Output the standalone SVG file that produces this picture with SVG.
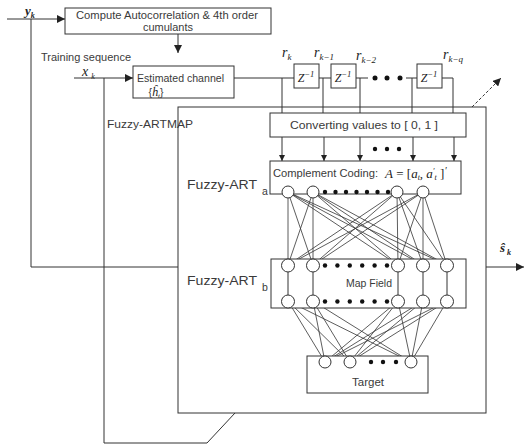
<svg xmlns="http://www.w3.org/2000/svg" width="526" height="446" viewBox="0 0 526 446">
<defs>
<marker id="arr" viewBox="0 0 10 10" refX="10" refY="5" markerWidth="8" markerHeight="8" markerUnits="userSpaceOnUse" orient="auto">
<path d="M0,0 L10,5 L0,10 Z" fill="#222"/>
</marker>
<marker id="arrs" viewBox="0 0 10 10" refX="10" refY="5" markerWidth="6" markerHeight="6" markerUnits="userSpaceOnUse" orient="auto">
<path d="M0,0 L10,5 L0,10 Z" fill="#222"/>
</marker>
</defs>
<style>
.box{fill:#fff;stroke:#333;stroke-width:1}
.ln{fill:none;stroke:#333;stroke-width:1}
.net{fill:none;stroke:#333;stroke-width:0.8}
.cir{fill:#fff;stroke:#333;stroke-width:1}
.dot{fill:#111}
.t{font-family:"Liberation Sans",Arial,sans-serif;font-size:10.5px;fill:#3a3a3a}
.big{font-family:"Liberation Sans",Arial,sans-serif;font-size:13.5px;fill:#3a3a3a}
.m{font-family:"Liberation Serif","Times New Roman",serif;font-style:italic;fill:#222}
</style>
<rect width="526" height="446" fill="#fff"/>

<g id="connectors">
<path class="ln" d="M7,19 H65" marker-end="url(#arr)"/>
<path class="ln" d="M31,19 V267 H178"/>
<path class="ln" d="M486,267 H524" marker-end="url(#arr)"/>
<path class="ln" d="M74,78 H133" marker-end="url(#arr)"/>
<path class="ln" d="M104,78 V443 H207 L235,413"/>
<path class="ln" d="M178,34 V53" marker-end="url(#arr)"/>
<path class="ln" d="M472,107 L501,78" stroke-dasharray="3,2" marker-end="url(#arr)"/>
<path class="ln" d="M234,78 H294 M319,78 H331 M356,78 H368 M406,78 H417 M442,78 H453 V113"/>
<path class="ln" d="M282,78 V113 M323,78 V113 M360,78 V113 M412,78 V113"/>
<g>
<path class="ln" d="M282,137 V161" marker-end="url(#arrs)"/>
<path class="ln" d="M324,137 V161" marker-end="url(#arrs)"/>
<path class="ln" d="M360,137 V161" marker-end="url(#arrs)"/>
<path class="ln" d="M413,137 V161" marker-end="url(#arrs)"/>
<path class="ln" d="M454,137 V161" marker-end="url(#arrs)"/>
</g>
</g>

<g id="frame">
<rect class="ln" x="178" y="107" width="308" height="306"/>
<text class="t" x="107" y="128" font-size="11.5" textLength="86" lengthAdjust="spacingAndGlyphs">Fuzzy-ARTMAP</text>
</g>

<g id="compute">
<rect class="box" x="65" y="8" width="206" height="26"/>
<text class="t" x="76" y="19" textLength="182" lengthAdjust="spacingAndGlyphs">Compute Autocorrelation &amp; 4th order</text>
<text class="t" x="143" y="31" textLength="50" lengthAdjust="spacingAndGlyphs">cumulants</text>
</g>

<g id="labels">
<text class="m" x="25" y="15" font-size="13" font-weight="bold">y<tspan font-size="8" dy="3">k</tspan></text>
<text class="t" x="41" y="61" textLength="90" lengthAdjust="spacingAndGlyphs">Training sequence</text>
<text class="m" x="82" y="76" font-size="14">x<tspan font-size="8" dx="3" dy="3">k</tspan></text>
<text class="m" x="500" y="252" font-size="13" font-weight="bold">ŝ<tspan font-size="8" dx="2" dy="3">k</tspan></text>
<text class="m" x="282" y="57" font-size="14">r<tspan font-size="9" dy="3">k</tspan></text>
<text class="m" x="314" y="57" font-size="14">r<tspan font-size="9" dy="3">k−1</tspan></text>
<text class="m" x="356" y="60" font-size="14">r<tspan font-size="9" dy="3">k−2</tspan></text>
<text class="m" x="443" y="59" font-size="14">r<tspan font-size="9" dy="3">k−q</tspan></text>
</g>

<g id="estimated">
<rect class="box" x="133" y="66" width="101" height="32"/>
<text class="t" x="137" y="82" textLength="87" lengthAdjust="spacingAndGlyphs">Estimated channel</text>
<text x="156" y="96" text-anchor="middle"><tspan class="t">{</tspan><tspan class="m" font-size="12">ĥ</tspan><tspan class="m" font-size="7" dy="2">t</tspan><tspan class="t" dy="-2">}</tspan></text>
</g>

<g id="delays">
<rect class="box" x="294" y="64" width="25" height="24"/>
<text class="m" x="306" y="82" font-size="12" text-anchor="middle" font-style="normal">Z<tspan font-size="8.5" dy="-5">−1</tspan></text>
<rect class="box" x="331" y="64" width="25" height="24"/>
<text class="m" x="343" y="82" font-size="12" text-anchor="middle" font-style="normal">Z<tspan font-size="8.5" dy="-5">−1</tspan></text>
<rect class="box" x="417" y="64" width="25" height="24"/>
<text class="m" x="429" y="82" font-size="12" text-anchor="middle" font-style="normal">Z<tspan font-size="8.5" dy="-5">−1</tspan></text>
<circle class="dot" cx="375" cy="78" r="2.5"/>
<circle class="dot" cx="387" cy="78" r="2.5"/>
<circle class="dot" cx="400" cy="78" r="2.5"/>
</g>

<g id="converting">
<rect class="box" x="270" y="113" width="196" height="24"/>
<text class="t" x="290" y="129" textLength="148" lengthAdjust="spacingAndGlyphs">Converting values to [ 0, 1 ]</text>
<circle class="dot" cx="375" cy="149" r="2.2"/>
<circle class="dot" cx="387" cy="149" r="2.2"/>
<circle class="dot" cx="399" cy="149" r="2.2"/>
</g>

<g id="art-a">
<rect class="box" x="270" y="161" width="191" height="33"/>
<text class="t" x="273" y="177" textLength="105" lengthAdjust="spacingAndGlyphs">Complement  Coding:</text>
<text class="m" x="385" y="178" font-size="13">A<tspan font-style="normal"> = [</tspan>a<tspan font-size="8" dy="2">t</tspan><tspan dy="-2">, a</tspan><tspan font-size="8" dy="-4">′</tspan><tspan font-size="8" dy="6">t</tspan><tspan font-style="normal" dy="-2"> ]</tspan><tspan font-size="10" dy="-4">′</tspan></text>
<text class="big" x="187" y="189" textLength="70" lengthAdjust="spacingAndGlyphs">Fuzzy-ART</text>
<text class="t" x="262" y="195" font-size="11">a</text>
</g>

<g id="weights" class="net">
<path d="M288,192 L288,265 M288,192 L313,265 M288,192 L398,265 M288,192 L423,265 M288,192 L447,265"/>
<path d="M313,192 L288,265 M313,192 L313,265 M313,192 L398,265 M313,192 L423,265 M313,192 L447,265"/>
<path d="M397,192 L288,265 M397,192 L313,265 M397,192 L398,265 M397,192 L423,265 M397,192 L447,265"/>
<path d="M423,192 L288,265 M423,192 L313,265 M423,192 L398,265 M423,192 L423,265 M423,192 L447,265"/>
<path d="M288,301 L325,362 M288,301 L350,362 M288,301 L411,362"/>
<path d="M313,301 L325,362 M313,301 L350,362 M313,301 L411,362"/>
<path d="M398,301 L325,362 M398,301 L350,362 M398,301 L411,362"/>
<path d="M423,301 L325,362 M423,301 L350,362 M423,301 L411,362"/>
<path d="M447,301 L325,362 M447,301 L350,362 M447,301 L411,362"/>
</g>

<g id="art-a-nodes">
<circle class="cir" cx="288" cy="192" r="6"/>
<circle class="cir" cx="313" cy="192" r="6"/>
<circle class="cir" cx="397" cy="192" r="6"/>
<circle class="cir" cx="423" cy="192" r="6"/>
<circle class="dot" cx="325" cy="192" r="2.2"/>
<circle class="dot" cx="335.5" cy="192" r="2.2"/>
<circle class="dot" cx="346" cy="192" r="2.2"/>
<circle class="dot" cx="356.5" cy="192" r="2.2"/>
<circle class="dot" cx="367" cy="192" r="2.2"/>
<circle class="dot" cx="377.5" cy="192" r="2.2"/>
<circle class="dot" cx="388" cy="192" r="2.2"/>
</g>

<g id="map-field">
<rect class="box" x="271" y="259" width="195" height="49"/>
<path class="ln" d="M288,265 V301 M313,265 V301 M398,265 V301 M423,265 V301 M447,265 V301"/>
<text class="t" x="346" y="287" textLength="46" lengthAdjust="spacingAndGlyphs">Map Field</text>
<text class="big" x="187" y="285" textLength="70" lengthAdjust="spacingAndGlyphs">Fuzzy-ART</text>
<text class="t" x="262" y="291" font-size="11">b</text>
<circle class="cir" cx="288" cy="265.5" r="6.5"/>
<circle class="cir" cx="313" cy="265.5" r="6.5"/>
<circle class="cir" cx="398" cy="265.5" r="6.5"/>
<circle class="cir" cx="423" cy="265.5" r="6.5"/>
<circle class="cir" cx="447" cy="265.5" r="6.5"/>
<circle class="cir" cx="288" cy="301.5" r="6.5"/>
<circle class="cir" cx="313" cy="301.5" r="6.5"/>
<circle class="cir" cx="398" cy="301.5" r="6.5"/>
<circle class="cir" cx="423" cy="301.5" r="6.5"/>
<circle class="cir" cx="447" cy="301.5" r="6.5"/>
<g class="dot">
<circle cx="325" cy="265.5" r="2.2"/><circle cx="337.4" cy="265.5" r="2.2"/><circle cx="349.8" cy="265.5" r="2.2"/><circle cx="362.2" cy="265.5" r="2.2"/><circle cx="374.6" cy="265.5" r="2.2"/><circle cx="387" cy="265.5" r="2.2"/>
<circle cx="325" cy="301.5" r="2.2"/><circle cx="337.4" cy="301.5" r="2.2"/><circle cx="349.8" cy="301.5" r="2.2"/><circle cx="362.2" cy="301.5" r="2.2"/><circle cx="374.6" cy="301.5" r="2.2"/><circle cx="387" cy="301.5" r="2.2"/>
</g>
</g>

<g id="target">
<rect class="box" x="307" y="356" width="121" height="37"/>
<circle class="cir" cx="325" cy="362" r="6"/>
<circle class="cir" cx="350" cy="362" r="6"/>
<circle class="cir" cx="411" cy="362" r="6"/>
<circle class="dot" cx="371" cy="362" r="2.2"/>
<circle class="dot" cx="383" cy="362" r="2.2"/>
<circle class="dot" cx="396" cy="362" r="2.2"/>
<text class="t" x="352" y="386" textLength="32" lengthAdjust="spacingAndGlyphs">Target</text>
</g>
</svg>
